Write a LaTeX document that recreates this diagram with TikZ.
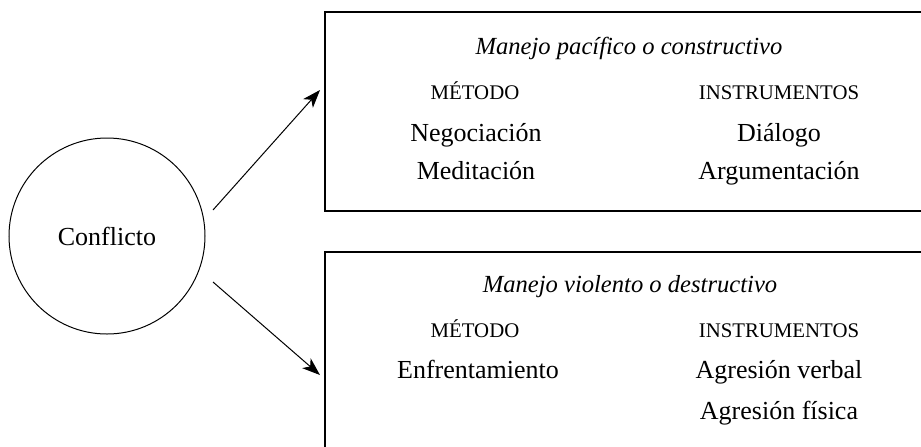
\documentclass[tikz,border=0pt]{standalone}
\usepackage{fontspec}
\setmainfont{Liberation Serif}
\usetikzlibrary{arrows.meta}

\begin{document}
\begin{tikzpicture}[x=0.5pt, y=-0.5pt, ->, >={Stealth[length=9pt, width=6.5pt, inset=2.5pt]},
  every node/.style={font=\fontsize{13}{15}\selectfont},
  txt/.style={anchor=base},
  box/.style={draw, line width=0.75pt, minimum width=307.5pt},
  head/.style={anchor=base, font=\fontsize{10.4}{12}\selectfont},
  title/.style={anchor=base, font=\fontsize{12.3}{15}\selectfont\itshape}]
  \useasboundingbox (0,0) rectangle (921,446);

  \node[draw, circle, line width=0.5pt, minimum size=98pt] (conf) at (107,236) {};
  \node[txt] (confT) at (107,245) {Conflicto};

  % cajas
  \node[box, minimum height=99.5pt] (paz) at (632.5,111.5) {};
  \node[box, minimum height=104pt]  (vio) at (632.5,356)   {};

  \node[title] (pazT) at (629,54.5) {Manejo pacífico o constructivo};
  \node[head]  (pazM) at (475,99.5) {MÉTODO};
  \node[head]  (pazI) at (779,99.5) {INSTRUMENTOS};
  \node[txt]   (neg)  at (476,141.5) {Negociación};
  \node[txt]   (med)  at (476,179)  {Meditación};
  \node[txt]   (dia)  at (779,141.5) {Diálogo};
  \node[txt]   (arg)  at (779,179)  {Argumentación};

  \node[title] (vioT) at (630,292.5) {Manejo violento o destructivo};
  \node[head]  (vioM) at (475,337.5) {MÉTODO};
  \node[head]  (vioI) at (779,337.5) {INSTRUMENTOS};
  \node[txt]   (enf)  at (478,378.5) {Enfrentamiento};
  \node[txt]   (ave)  at (779,378.5) {Agresión verbal};
  \node[txt]   (afi)  at (779,419)  {Agresión física};

  % flechas
  \coordinate (s1) at (213,210);
  \coordinate (e1) at (320,90);
  \coordinate (s2) at (213,282);
  \coordinate (e2) at (320,375);
  \draw[line width=0.5pt] (s1) -- (e1);
  \draw[line width=0.5pt] (s2) -- (e2);
\end{tikzpicture}
\end{document}
